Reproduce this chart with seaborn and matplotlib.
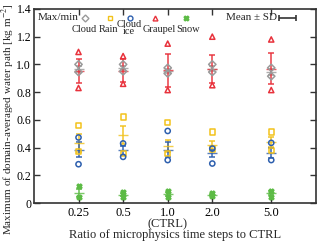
import numpy as np
import pandas as pd
import matplotlib
matplotlib.use("Agg")
import matplotlib.pyplot as plt
import seaborn as sns

# ratio of microphysics time step to CTRL
ratios = [0.25, 0.5, 1.0, 2.0, 5.0]
tick_labels = ["0.25", "0.5", "1.0", "2.0", "5.0"]

# values [kg m-2]
cloud_max = [1.00, 1.00, 0.975, 1.00, 0.975]
cloud_min = [0.945, 0.95, 0.935, 0.945, 0.915]
cloud_mean = [0.965, 0.975, 0.955, 0.97, 0.945]
cloud_sd = [0.02, 0.015, 0.015, 0.02, 0.02]

rain_max = [0.56, 0.62, 0.58, 0.513, 0.513]
rain_min = [0.37, 0.36, 0.36, 0.39, 0.38]
rain_mean = [0.43, 0.49, 0.41, 0.42, 0.44]
rain_sd = [0.065, 0.065, 0.045, 0.03, 0.035]

ice_max = [0.473, 0.43, 0.52, 0.393, 0.434]
ice_min = [0.28, 0.333, 0.31, 0.285, 0.31]
ice_mean = [0.385, 0.38, 0.386, 0.36, 0.36]
ice_sd = [0.053, 0.03, 0.055, 0.025, 0.035]

graupel_max = [1.09, 1.06, 1.15, 1.20, 1.18]
graupel_min = [0.83, 0.86, 0.815, 0.85, 0.815]
graupel_mean = [0.95, 0.955, 0.958, 0.965, 0.97]
graupel_sd = [0.087, 0.085, 0.118, 0.10, 0.11]

snow_max = [0.125, 0.08, 0.09, 0.07, 0.09]
snow_min = [0.04, 0.04, 0.045, 0.05, 0.045]
snow_mean = [0.07, 0.06, 0.065, 0.06, 0.07]
snow_sd = [0.03, 0.01, 0.015, 0.006, 0.015]

species = ["Cloud", "Rain", "Cloud\nice", "Graupel", "Snow"]
colors = ["#9a9a9a", "#f2c21b", "#2d5fae", "#e8323c", "#5cbb45"]
markers = ["D", "s", "o", "^", "X"]

stats = {
    "Cloud": (cloud_max, cloud_min, cloud_mean, cloud_sd),
    "Rain": (rain_max, rain_min, rain_mean, rain_sd),
    "Cloud\nice": (ice_max, ice_min, ice_mean, ice_sd),
    "Graupel": (graupel_max, graupel_min, graupel_mean, graupel_sd),
    "Snow": (snow_max, snow_min, snow_mean, snow_sd),
}

rows = []
for sp in species:
    mx, mn, me, sd = stats[sp]
    for r, a, b, c, d in zip(ratios, mx, mn, me, sd):
        rows.append(dict(species=sp, ratio=r, vmax=a, vmin=b, mean=c, sd=d))
df = pd.DataFrame(rows)
ext = df.melt(id_vars=["species", "ratio"], value_vars=["vmax", "vmin"],
              value_name="value")

sns.set_style("ticks")
plt.rcParams["font.family"] = ["Liberation Serif", "DejaVu Serif"]
plt.rcParams["mathtext.fontset"] = "stix"

fig = plt.figure(figsize=(3.2, 2.42), dpi=100)
ax = fig.add_axes([0.106, 0.161, 0.881, 0.802])

pal = dict(zip(species, colors))
for sp, m in zip(species, markers):
    sub = df[df.species == sp]
    ax.errorbar(sub.ratio, sub["mean"], yerr=sub.sd, fmt="_", ms=7,
                color=pal[sp], ecolor=pal[sp], elinewidth=1.3, capsize=2.5,
                capthick=1.3, alpha=0.8, zorder=3)
    e = ext[ext.species == sp]
    sns.scatterplot(data=e, x="ratio", y="value", ax=ax, marker=m,
                    s=14 if m != "X" else 12, facecolor="none" if m != "X" else pal[sp],
                    edgecolor=pal[sp], linewidth=1.1, legend=False, zorder=4)

ax.set_xscale("log")
ax.set_xlim(0.125, 10)
ax.set_ylim(0, 1.4)
ax.set_xticks(ratios)
ax.set_xticklabels(tick_labels)
ax.minorticks_off()
ax.set_yticks(np.arange(0, 1.41, 0.2))
ax.set_yticklabels(["0", "0.2", "0.4", "0.6", "0.8", "1.0", "1.2", "1.4"])
ax.tick_params(direction="in", length=4, width=1, labelsize=9,
               top=True, right=True, pad=2.5, colors="#333333", labelcolor="black")
ax.tick_params(axis="y", labelsize=8.5, pad=2)
for s in ax.spines.values():
    s.set_linewidth(1.2)
    s.set_color("#333333")

ax.set_xlabel("Ratio of microphysics time steps to CTRL", fontsize=9)
ax.xaxis.set_label_coords(0.5, -0.135)
ax.xaxis.label.set_va("top")
ax.set_ylabel("Maximum of domain-averaged water path [kg m$^{-2}$]", fontsize=8)
ax.yaxis.set_label_coords(-0.092, 0.43)
ax.yaxis.label.set_va("center")
ax.text(1.0, -0.078, "(CTRL)", transform=ax.get_xaxis_transform(), ha="center",
        va="top", fontsize=9)

# custom legend along the top
tr = ax.transAxes
ax.text(0.015, 0.955, "Max/min", transform=tr, fontsize=8, va="center")
lx = [0.18, 0.27, 0.34, 0.43, 0.54]
label_x = [0.178, 0.264, 0.338, 0.445, 0.548]
for x, tx, sp, m in zip(lx, label_x, species, markers):
    ax.plot([x], [0.955], transform=tr, marker=m, ms=3.5,
            mfc="none" if m != "X" else pal[sp], mec=pal[sp], mew=1.0, ls="none",
            clip_on=False)
    ax.text(tx, 0.915 if sp != "Cloud\nice" else 0.945,
            sp, transform=tr, fontsize=7.5, ha="center", va="top", linespacing=0.8)
ax.text(0.68, 0.955, "Mean \u00b1 SD", transform=tr, fontsize=8, va="center")
ax.errorbar([0.9], [0.955], xerr=[0.03], transform=tr, color="#333333",
            capsize=2.5, elinewidth=1.2, capthick=1.2, clip_on=False)

fig.savefig("out.png", dpi=100)
